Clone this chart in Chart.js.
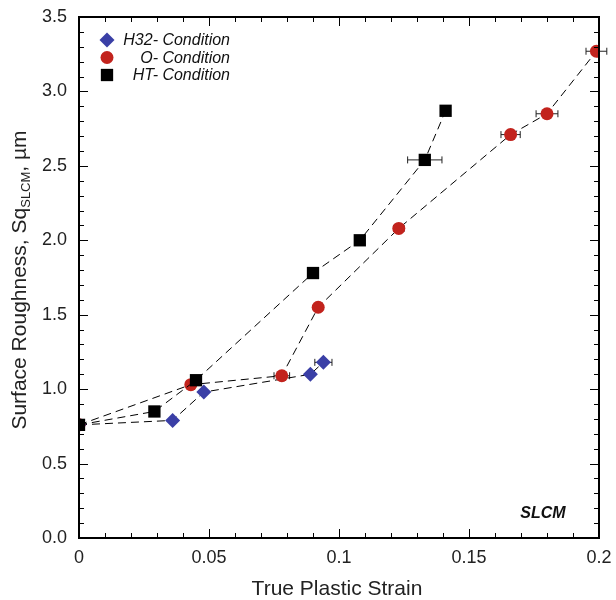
<!DOCTYPE html>
<html>
<head>
<meta charset="utf-8">
<script src="https://cdn.jsdelivr.net/npm/chart.js@4/dist/chart.umd.min.js"></script>
<style>
  html, body { margin: 0; padding: 0; background: #fff; }
  #wrap { width: 616px; height: 600px; }
</style>
</head>
<body>
<div id="wrap"><canvas id="myChart" width="616" height="600"></canvas></div>
<script>
// data
var h32X = [0, 0.036, 0.048, 0.089, 0.094];
var h32Y = [0.76, 0.79, 0.98, 1.10, 1.18];
var h32Err = [0, 0, 0, 0, 0.0033];

var oX = [0, 0.043, 0.078, 0.092, 0.123, 0.166, 0.180, 0.199];
var oY = [0.76, 1.03, 1.09, 1.55, 2.08, 2.71, 2.85, 3.27];
var oErr = [0, 0, 0.003, 0, 0.002, 0.0037, 0.0042, 0.004];

var htX = [0, 0.029, 0.045, 0.090, 0.108, 0.133, 0.141];
var htY = [0.76, 0.85, 1.06, 1.78, 2.00, 2.54, 2.87];
var htErr = [0, 0, 0, 0, 0, 0.0066, 0];

var xTickLabels = ['0', '0.05', '0.1', '0.15', '0.2'];
var yTickLabels = ['0.0', '0.5', '1.0', '1.5', '2.0', '2.5', '3.0', '3.5'];

var BLUE = '#3a3fa6';
var RED = '#c2231d';
var FONT = '"Liberation Sans", Arial, sans-serif';

function pts(xs, ys) {
    return xs.map(function (x, i) { return {x: x, y: ys[i]}; });
}

function noPad(s) {
    s.paddingTop = 0; s.paddingBottom = 0; s.paddingLeft = 0; s.paddingRight = 0;
}

// horizontal error bars, inward ticks, frame, legend, labels
var decorPlugin = {
    id: 'decor',
    beforeDatasetsDraw: function (chart) {
        var ctx = chart.ctx, xs = chart.scales.x, ys = chart.scales.y;
        ctx.save();
        ctx.strokeStyle = '#222';
        ctx.lineWidth = 1;
        chart.data.datasets.forEach(function (ds) {
            (ds.xErr || []).forEach(function (e, i) {
                if (!e) return;
                var p = ds.data[i];
                var x1 = xs.getPixelForValue(p.x - e), x2 = xs.getPixelForValue(p.x + e);
                var y = ys.getPixelForValue(p.y);
                ctx.beginPath();
                ctx.moveTo(x1, y); ctx.lineTo(x2, y);
                ctx.moveTo(x1, y - 3.5); ctx.lineTo(x1, y + 3.5);
                ctx.moveTo(x2, y - 3.5); ctx.lineTo(x2, y + 3.5);
                ctx.stroke();
            });
        });
        ctx.restore();
    },
    afterDraw: function (chart) {
        var ctx = chart.ctx, a = chart.chartArea;
        var xs = chart.scales.x, ys = chart.scales.y;
        ctx.save();
        ctx.strokeStyle = '#000';
        ctx.lineWidth = 1;
        ctx.beginPath();
        // x ticks (bottom and top)
        for (var i = 0; i <= 20; i++) {
            var px = Math.round(xs.getPixelForValue(i * 0.01)) + 0.5;
            var len = (i % 5 === 0) ? 9 : 5;
            ctx.moveTo(px, a.bottom); ctx.lineTo(px, a.bottom - len);
            ctx.moveTo(px, a.top); ctx.lineTo(px, a.top + len);
        }
        // y ticks (left and right)
        for (var j = 0; j <= 35; j++) {
            var py = Math.round(ys.getPixelForValue(j * 0.1)) + 0.5;
            var l2 = (j % 5 === 0) ? 9 : 5;
            ctx.moveTo(a.left, py); ctx.lineTo(a.left + l2, py);
            ctx.moveTo(a.right, py); ctx.lineTo(a.right - l2, py);
        }
        ctx.stroke();
        // frame
        ctx.lineWidth = 2;
        ctx.strokeRect(a.left, a.top, a.right - a.left, a.bottom - a.top);

        // legend
        var items = [
            {label: 'H32- Condition', style: 'rectRot', color: BLUE, r: 7.5},
            {label: 'O- Condition', style: 'circle', color: RED, r: 6.5},
            {label: 'HT- Condition', style: 'rect', color: '#000', r: 8.7}
        ];
        ctx.font = 'italic 16px ' + FONT;
        ctx.textAlign = 'right';
        ctx.textBaseline = 'middle';
        items.forEach(function (it, k) {
            var y = 40 + k * 17.5;
            ctx.fillStyle = it.color;
            Chart.helpers.drawPoint(ctx, {pointStyle: it.style, radius: it.r, borderWidth: 0}, 107, y);
            ctx.fillStyle = '#111';
            ctx.fillText(it.label, 230, y + 1);
        });

        // SLCM tag
        ctx.font = 'bold italic 16px ' + FONT;
        ctx.textAlign = 'center';
        ctx.fillStyle = '#111';
        ctx.fillText('SLCM', 543, 514);

        // x title
        ctx.font = '21px ' + FONT;
        ctx.textAlign = 'center';
        ctx.fillStyle = '#222';
        ctx.fillText('True Plastic Strain', 337, 589);

        // y title with subscript
        var p1 = 'Surface Roughness, Sq', sub = 'SLCM', p3 = ', \u00b5m';
        ctx.font = '21px ' + FONT;
        var w1 = ctx.measureText(p1).width, w3 = ctx.measureText(p3).width;
        ctx.font = '13px ' + FONT;
        var w2 = ctx.measureText(sub).width;
        var total = w1 + w2 + w3;
        ctx.translate(19, 280);
        ctx.rotate(-Math.PI / 2);
        ctx.textAlign = 'left';
        ctx.textBaseline = 'alphabetic';
        var sx = -total / 2;
        ctx.font = '21px ' + FONT;
        ctx.fillText(p1, sx, 7);
        ctx.font = '13px ' + FONT;
        ctx.fillText(sub, sx + w1, 11);
        ctx.font = '21px ' + FONT;
        ctx.fillText(p3, sx + w1 + w2, 7);
        ctx.restore();
    }
};

function lineSet(label, xs, ys, err, style, color, r) {
    return {
        label: label,
        data: pts(xs, ys),
        xErr: err,
        showLine: true,
        borderColor: '#000',
        borderWidth: 1,
        borderDash: [8, 5],
        pointStyle: style,
        pointRadius: r,
        pointHoverRadius: r,
        pointBackgroundColor: color,
        pointBorderColor: color,
        pointBorderWidth: 0
    };
}

var chart = new Chart(document.getElementById('myChart').getContext('2d'), {
    type: 'scatter',
    data: {
        datasets: [
            lineSet('HT- Condition', htX, htY, htErr, 'rect', '#000', 8.7),
            lineSet('O- Condition', oX, oY, oErr, 'circle', RED, 6.5),
            lineSet('H32- Condition', h32X, h32Y, h32Err, 'rectRot', BLUE, 7.5)
        ]
    },
    options: {
        responsive: false,
        animation: false,
        layout: { padding: { top: 17, right: 17, left: 0, bottom: 0 } },
        plugins: {
            legend: { display: false },
            tooltip: { enabled: false }
        },
        scales: {
            x: {
                type: 'linear',
                min: 0,
                max: 0.2,
                afterFit: function (s) { s.height = 62; noPad(s); },
                afterBuildTicks: function (s) {
                    s.ticks = xTickLabels.map(function (t, i) { return {value: i * 0.05}; });
                },
                grid: { display: false, drawTicks: false },
                border: { display: false },
                ticks: {
                    padding: 9,
                    color: '#222',
                    font: { family: FONT, size: 18 },
                    maxRotation: 0,
                    autoSkip: false,
                    callback: function (v, i) { return xTickLabels[i]; }
                }
            },
            y: {
                min: 0,
                max: 3.5,
                afterFit: function (s) { s.width = 79; noPad(s); },
                afterBuildTicks: function (s) {
                    s.ticks = yTickLabels.map(function (t, i) { return {value: i * 0.5}; });
                },
                grid: { display: false, drawTicks: false },
                border: { display: false },
                ticks: {
                    padding: 12,
                    color: '#222',
                    font: { family: FONT, size: 18 },
                    autoSkip: false,
                    callback: function (v, i) { return yTickLabels[i]; }
                }
            }
        }
    },
    plugins: [decorPlugin]
});
</script>
</body>
</html>
